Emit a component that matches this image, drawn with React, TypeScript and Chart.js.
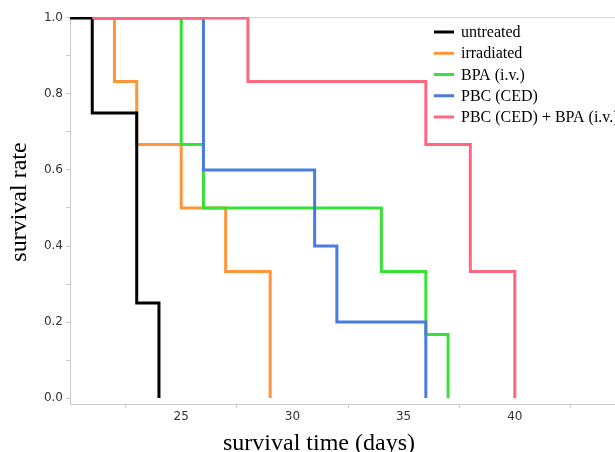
import React, { useEffect, useRef } from "react";
import { Chart, registerables } from "chart.js";

Chart.register(...registerables);

const seriesNames = [
  "untreated",
  "irradiated",
  "BPA (i.v.)",
  "PBC (CED)",
  "PBC (CED) + BPA (i.v.)",
];
const seriesColors = ["#000000", "#ff9438", "#36e236", "#4a7be0", "#ff6680"];
const seriesOrder = [1, 4, 3, 2, 0];

const untreatedDays = [20, 21, 23, 24];
const untreatedRate = [1, 0.75, 0.25, 0];
const irradiatedDays = [21, 22, 23, 25, 27, 29];
const irradiatedRate = [1, 0.833, 0.667, 0.5, 0.333, 0];
const bpaDays = [21, 25, 26, 34, 36, 37];
const bpaRate = [1, 0.667, 0.5, 0.333, 0.167, 0];
const pbcDays = [21, 26, 31, 32, 36];
const pbcRate = [1, 0.6, 0.4, 0.2, 0];
const comboDays = [21, 28, 36, 38, 40];
const comboRate = [1, 0.833, 0.667, 0.333, 0];

const xTickValues = [20, 22.5, 25, 27.5, 30, 32.5, 35, 37.5, 40, 42.5, 45];
const xLabelValues = [25, 30, 35, 40];
const yTickValues = [0, 0.1, 0.2, 0.3, 0.4, 0.5, 0.6, 0.7, 0.8, 0.9, 1.0];
const yLabelValues = [0, 0.2, 0.4, 0.6, 0.8, 1.0];

const xTitle = "survival time (days)";
const yTitle = "survival rate";

const allDays = [untreatedDays, irradiatedDays, bpaDays, pbcDays, comboDays];
const allRates = [untreatedRate, irradiatedRate, bpaRate, pbcRate, comboRate];

const near = (list: number[], v: number) => list.some((a) => Math.abs(a - v) < 1e-6);

const decorPlugin = {
  id: "decor",
  beforeDatasetsDraw(chart: any) {
    const { ctx, chartArea } = chart;
    ctx.save();
    ctx.strokeStyle = "#d4d4d4";
    ctx.lineWidth = 1;
    ctx.beginPath();
    ctx.moveTo(chartArea.left, chartArea.top + 0.5);
    ctx.lineTo(chartArea.right, chartArea.top + 0.5);
    ctx.stroke();
    ctx.restore();
  },
  afterDraw(chart: any) {
    const { ctx } = chart;
    ctx.save();
    ctx.fillStyle = "#000";
    ctx.font = '24px "Liberation Serif", "Times New Roman", serif';
    ctx.textAlign = "center";
    ctx.textBaseline = "alphabetic";
    ctx.fillText(xTitle, 319, 450);
    ctx.save();
    ctx.translate(26, 202);
    ctx.rotate(-Math.PI / 2);
    ctx.fillText(yTitle, 0, 0);
    ctx.restore();

    ctx.font = '16px "Liberation Serif", "Times New Roman", serif';
    ctx.textAlign = "left";
    ctx.textBaseline = "middle";
    seriesNames.forEach((name, i) => {
      const y = 32 + i * 21.25;
      ctx.strokeStyle = seriesColors[i];
      ctx.lineWidth = 3;
      ctx.beginPath();
      ctx.moveTo(434, y);
      ctx.lineTo(454, y);
      ctx.stroke();
      ctx.fillStyle = "#000";
      ctx.fillText(name, 461, y + 1);
    });
    ctx.restore();
  },
};

export default function App() {
  const canvasRef = useRef<HTMLCanvasElement | null>(null);

  useEffect(() => {
    const canvas = canvasRef.current;
    if (!canvas) return;
    const datasets = seriesNames.map((name, i) => ({
      label: name,
      data: allDays[i].map((d, j) => ({ x: d, y: allRates[i][j] })),
      borderColor: seriesColors[i],
      backgroundColor: seriesColors[i],
      borderWidth: 3,
      pointRadius: 0,
      stepped: "before" as const,
      fill: false,
      order: seriesOrder[i],
      borderJoinStyle: "miter" as const,
      borderCapStyle: "butt" as const,
    }));

    const chart = new Chart(canvas, {
      type: "line",
      data: { datasets },
      plugins: [decorPlugin],
      options: {
        animation: false,
        responsive: false,
        maintainAspectRatio: false,
        layout: { padding: { top: 17, left: 0, right: 0, bottom: 0 } },
        plugins: {
          legend: { display: false },
          tooltip: { enabled: false },
        },
        scales: {
          x: {
            type: "linear",
            min: 20,
            max: 45,
            afterFit(scale: any) {
              scale.height = 48;
            },
            afterBuildTicks(scale: any) {
              scale.ticks = xTickValues.map((v) => ({ value: v }));
            },
            border: { display: true, color: "#cccccc", width: 1 },
            grid: {
              drawOnChartArea: false,
              drawTicks: true,
              tickLength: 4,
              color: (c: any) =>
                c.tick && (near(xLabelValues, c.tick.value) || c.tick.value === 20 || c.tick.value === 45)
                  ? "rgba(0,0,0,0)"
                  : "#cccccc",
            },
            ticks: {
              autoSkip: false,
              maxRotation: 0,
              padding: 2,
              color: "#333333",
              font: { family: '"DejaVu Sans", sans-serif', size: 12 },
              callback: (v: any) => (near(xLabelValues, Number(v)) ? String(v) : ""),
            },
          },
          y: {
            type: "linear",
            min: -6 / 380,
            max: 1 + 1 / 380,
            afterFit(scale: any) {
              scale.width = 70;
            },
            afterBuildTicks(scale: any) {
              scale.ticks = yTickValues.map((v) => ({ value: v }));
            },
            border: { display: true, color: "#cccccc", width: 1 },
            grid: {
              drawOnChartArea: false,
              drawTicks: true,
              tickLength: 4,
              color: "#cccccc",
            },
            ticks: {
              autoSkip: false,
              padding: 3,
              color: "#333333",
              font: { family: '"DejaVu Sans", sans-serif', size: 12 },
              callback: (v: any) => (near(yLabelValues, Number(v)) ? Number(v).toFixed(1) : ""),
            },
          },
        },
      },
    });
    return () => chart.destroy();
  }, []);

  return (
    <div
      style={{
        position: "absolute",
        left: 0,
        top: 0,
        width: 615,
        height: 452,
        overflow: "hidden",
        background: "#fff",
      }}
    >
      <canvas ref={canvasRef} width={628} height={452} style={{ width: 628, height: 452, display: "block" }} />
    </div>
  );
}
